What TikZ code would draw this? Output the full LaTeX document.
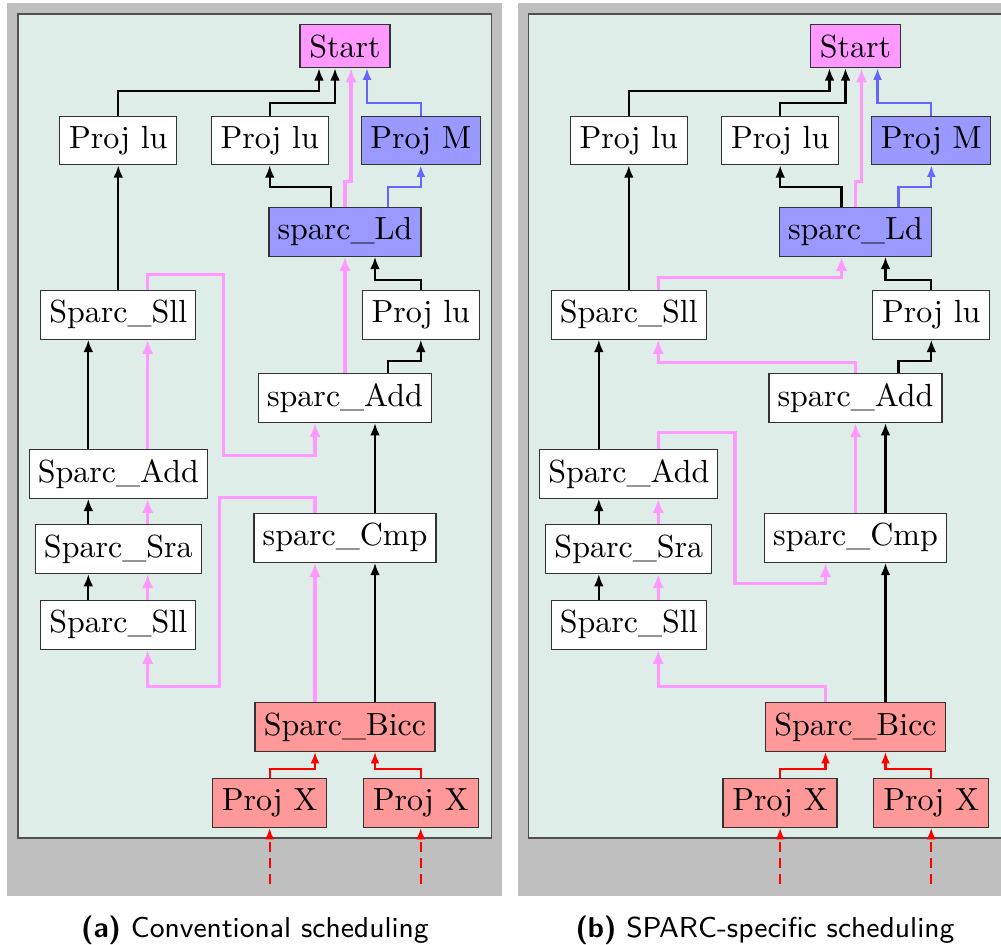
\documentclass[tikz,border=0pt]{standalone}
\usetikzlibrary{arrows.meta}

\newdimen\pxu \pxu=0.3125pt

\definecolor{panelbg}{RGB}{191,191,191}
\definecolor{innerbg}{RGB}{222,237,231}
\definecolor{framec}{RGB}{80,80,80}
\definecolor{pinkfill}{RGB}{255,153,255}
\definecolor{pinkline}{RGB}{255,153,255}
\definecolor{bluefill}{RGB}{153,153,255}
\definecolor{blueline}{RGB}{102,102,255}
\definecolor{redfill}{RGB}{255,153,153}
\definecolor{redline}{RGB}{255,0,0}

\tikzset{
  op/.style={draw=black!80, line width=0.4pt, fill=white, inner sep=0pt,
             font=\fontsize{10}{12}\selectfont},
  sz/.style 2 args={minimum width=#1*\pxu, minimum height=#2*\pxu},
  blk/.style={draw=black, line width=0.65pt, -{Latex[length=3.8pt,width=3pt]}},
  pnk/.style={draw=pinkline, line width=0.95pt, -{Latex[length=4.4pt,width=3.6pt]}},
  blu/.style={draw=blueline, line width=0.65pt, -{Latex[length=3.6pt,width=2.8pt]}},
  rd/.style={draw=redline, line width=0.65pt, -{Latex[length=3.6pt,width=2.8pt]}},
  rdd/.style={rd, dash pattern=on 3pt off 2pt},
  caption/.style={anchor=base, font=\fontsize{9}{11}\selectfont\sffamily},
}

% operation boxes of one schedule panel, names prefixed by #1
\newcommand\panelnodes[1]{%
  \fill[panelbg] (7,3) rectangle (501.7,895.7);
  \draw[framec, line width=0.5pt, fill=innerbg] (18,14) rectangle (491.3,838);
  \node[op, sz={90}{43}, fill=pinkfill] (#1-start) at (345,46.2) {Start};
  \node[op, sz={117}{48}] (#1-plA) at (118.3,140.8) {Proj lu};
  \node[op, sz={117}{48}] (#1-plB) at (269.7,140.8) {Proj lu};
  \node[op, sz={119}{48}, fill=bluefill] (#1-pm) at (420.8,140.8) {Proj M};
  \node[op, sz={152}{49}, fill=bluefill] (#1-ld) at (345,231.7) {sparc\_Ld};
  \node[op, sz={155}{49}] (#1-sllT) at (118.3,314.7) {Sparc\_Sll};
  \node[op, sz={117}{49}] (#1-plC) at (420.8,314.7) {Proj lu};
  \node[op, sz={173}{49}] (#1-add) at (345,398) {sparc\_Add};
  \node[op, sz={178}{49}] (#1-Add) at (118.3,473.7) {Sparc\_Add};
  \node[op, sz={182}{49}] (#1-cmp) at (345,537.8) {sparc\_Cmp};
  \node[op, sz={166}{49}] (#1-sra) at (118.3,549) {Sparc\_Sra};
  \node[op, sz={155}{49}] (#1-sllB) at (118.3,624.7) {Sparc\_Sll};
  \node[op, sz={180}{49}, fill=redfill] (#1-bicc) at (345,726.8) {Sparc\_Bicc};
  \node[op, sz={114}{49}, fill=redfill] (#1-pxA) at (269.6,802.7) {Proj X};
  \node[op, sz={115}{49}, fill=redfill] (#1-pxB) at (420.7,802.7) {Proj X};
  \coordinate (#1-inA) at (269.6,884);
  \coordinate (#1-inB) at (420.7,884);
}

% dependences shared by both schedules
\newcommand\commonedges[1]{%
  \draw[blk] (#1-plA.north) -- ++(0,-25.5) -| ([xshift=-26*\pxu]#1-start.south);
  \draw[blk] (#1-plB.north) -- ++(0,-13.5) -| ([xshift=-10*\pxu]#1-start.south);
  \draw[pnk] (#1-ld.north) -- ++(0,-25) -| ([xshift=6*\pxu]#1-start.south);
  \draw[blu] (#1-pm.north) -- ++(0,-13.5) -| ([xshift=22*\pxu]#1-start.south);
  \draw[blk] ([xshift=-14*\pxu]#1-ld.north) -- ++(0,-19.6) -| (#1-plB.south);
  \draw[blu] ([xshift=43*\pxu]#1-ld.north) -- ++(0,-19.6) -| (#1-pm.south);
  \draw[blk] (#1-sllT.north) -- (#1-plA.south);
  \draw[blk] ([xshift=43*\pxu]#1-add.north) -- ++(0,-12) -| (#1-plC.south);
  \draw[blk] (#1-plC.north) -- ++(0,-10) -| ([xshift=30*\pxu]#1-ld.south);
  \draw[blk] ([xshift=-30*\pxu]#1-Add.north) -- ([xshift=-30*\pxu]#1-sllT.south);
  \draw[blk] ([xshift=30*\pxu]#1-cmp.north) -- ([xshift=30*\pxu]#1-add.south);
  \draw[blk] ([xshift=-30*\pxu]#1-sra.north) -- ([xshift=-30*\pxu]#1-Add.south);
  \draw[pnk] ([xshift=29.4*\pxu]#1-sra.north) -- ([xshift=29.4*\pxu]#1-Add.south);
  \draw[blk] ([xshift=-30*\pxu]#1-sllB.north) -- ([xshift=-30*\pxu]#1-sra.south);
  \draw[pnk] ([xshift=29.4*\pxu]#1-sllB.north) -- ([xshift=29.4*\pxu]#1-sra.south);
  \draw[blk] ([xshift=30*\pxu]#1-bicc.north) -- ([xshift=30*\pxu]#1-cmp.south);
  \draw[rd] (#1-pxA.north) -- ++(0,-9) -| ([xshift=-30*\pxu]#1-bicc.south);
  \draw[rd] (#1-pxB.north) -- ++(0,-9) -| ([xshift=30*\pxu]#1-bicc.south);
  \draw[rdd] (#1-inA) -- (#1-pxA.south);
  \draw[rdd] (#1-inB) -- (#1-pxB.south);
}

\begin{document}
\begin{tikzpicture}[x=0.3125pt, y=-0.3125pt]
  \clip (0,0) rectangle (1001,944);
  \fill[white] (0,0) rectangle (1001,944);

  % (a) conventional scheduling
  \begin{scope}
    \panelnodes{a}
    \commonedges{a}
    \draw[pnk] ([xshift=29.4*\pxu]a-Add.north) -- ([xshift=29.4*\pxu]a-sllT.south);
    \draw[pnk] ([xshift=29.4*\pxu]a-sllT.north) -- ++(0,-15.3) -- ++(75.6,0)
      -- ++(0,181) -| ([xshift=-30*\pxu]a-add.south);
    \draw[pnk] (a-add.north) -- (a-ld.south);
    \draw[pnk] ([xshift=-30*\pxu]a-cmp.north) -- ++(0,-15.6) -- ++(-95.2,0)
      -- ++(0,189.6) -| ([xshift=29.4*\pxu]a-sllB.south);
    \draw[pnk] ([xshift=-30*\pxu]a-bicc.north) -- ([xshift=-30*\pxu]a-cmp.south);
    \node[caption] (capa) at (255,937) {\textbf{(a)} Conventional scheduling};
  \end{scope}

  % (b) SPARC-specific scheduling
  \begin{scope}[xshift=510.5*\pxu]
    \panelnodes{b}
    \commonedges{b}
    \draw[pnk] ([xshift=29.4*\pxu]b-sllT.north) -- ++(0,-12.3) -| ([xshift=-14*\pxu]b-ld.south);
    \draw[pnk] (b-add.north) -- ++(0,-10.4) -| ([xshift=29.4*\pxu]b-sllT.south);
    \draw[pnk] ([xshift=29.4*\pxu]b-Add.north) -- ++(0,-15.7) -- ++(76.8,0)
      -- ++(0,150.7) -| ([xshift=-30*\pxu]b-cmp.south);
    \draw[pnk] (b-cmp.north) -- (b-add.south);
    \draw[pnk] ([xshift=-30*\pxu]b-bicc.north) -- ++(0,-15.6) -| ([xshift=29.4*\pxu]b-sllB.south);
    \node[caption] (capb) at (254.5,937) {\textbf{(b)} SPARC-specific scheduling};
  \end{scope}
\end{tikzpicture}
\end{document}
